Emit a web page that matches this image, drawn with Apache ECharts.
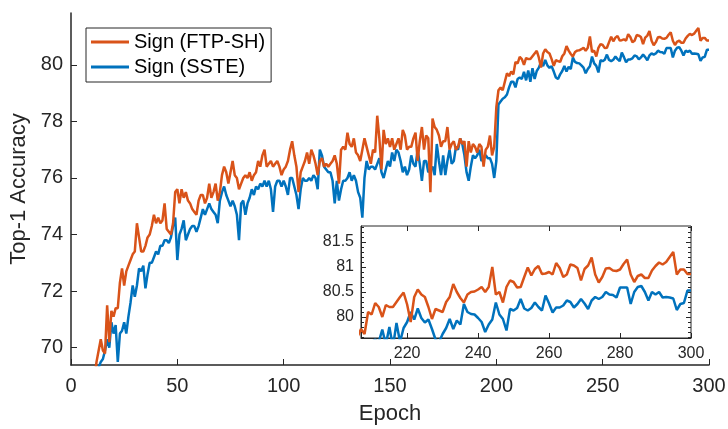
<!DOCTYPE html>
<html>
<head>
<meta charset="utf-8">
<script src="https://cdn.jsdelivr.net/npm/echarts@6/dist/echarts.min.js"></script>
<style>
html,body{margin:0;padding:0;background:#fff;}
#c{width:728px;height:429px;}
</style>
</head>
<body>
<div id="c"></div>
<script>
// Epoch at which each series array starts
const ftpStart = 11;
const ssteStart = 12;

// Sign (FTP-SH) top-1 accuracy, epochs 11..300
const ftpSH = [
68.9, 69.5, 69.9, 70.3, 69.9, 69.8, 71.5, 70.2, 71.3, 71.1,
71.4, 71.4, 72.3, 72.8, 72.2, 72.7, 72.9, 73.1, 73.3, 73.4,
74.4, 73.9, 73.4, 73.4, 73.6, 73.9, 74.0, 74.3, 74.7, 74.4,
74.6, 74.4, 74.5, 75.1, 74.2, 74.1, 74.0, 74.4, 75.5, 75.6,
75.1, 75.6, 75.3, 75.5, 75.2, 75.1, 74.9, 74.8, 74.7, 75.2,
75.4, 75.4, 75.1, 75.3, 75.8, 75.3, 75.5, 75.8, 75.2, 75.5,
76.1, 76.4, 76.2, 75.8, 76.2, 76.6, 76.1, 76.0, 75.6, 75.8,
76.0, 76.1, 76.0, 76.2, 75.9, 76.1, 76.2, 76.6, 76.4, 76.8,
77.0, 76.4, 76.5, 76.6, 76.4, 76.5, 76.6, 76.4, 76.1, 76.3,
76.4, 76.6, 77.0, 77.3, 76.8, 76.4, 75.5, 76.2, 76.4, 76.6,
76.9, 76.5, 77.0, 76.8, 76.5, 76.1, 76.6, 76.7, 76.4, 76.5,
76.4, 76.5, 76.6, 76.8, 76.5, 75.8, 77.0, 77.1, 77.0, 77.6,
77.2, 77.1, 77.4, 76.9, 76.8, 76.6, 77.0, 77.4, 77.1, 76.8,
76.5, 77.0, 76.9, 78.2, 77.4, 76.3, 77.7, 77.2, 77.4, 77.1,
77.4, 77.0, 77.2, 77.4, 77.0, 77.7, 77.5, 77.0, 77.1, 77.1,
77.4, 77.6, 76.6, 77.3, 77.8, 77.0, 77.5, 77.4, 75.5, 78.1,
77.8, 77.7, 77.5, 77.1, 77.3, 77.3, 77.8, 77.0, 77.2, 77.3,
77.0, 77.1, 77.4, 77.2, 77.3, 76.4, 77.3, 76.9, 77.2, 77.1,
76.9, 77.2, 77.1, 76.4, 77.0, 77.1, 77.5, 76.8, 77.1, 78.5,
79.1, 79.2, 79.1, 79.4, 79.7, 79.6, 79.76, 79.66, 80.1, 80.05,
80.28, 80.2, 80.0, 80.24, 80.2, 80.2, 80.3, 80.4, 80.49, 80.25,
79.9, 80.4, 80.55, 80.45, 80.4, 80.2, 79.96, 80.16, 80.13, 80.1,
80.3, 80.4, 80.66, 80.5, 80.38, 80.29, 80.45, 80.5, 80.51, 80.55,
80.6, 80.5, 80.6, 81.0, 80.45, 80.5, 80.29, 80.6, 80.73, 80.7,
80.59, 80.6, 80.8, 80.99, 80.83, 80.96, 81.02, 80.86, 80.87, 80.9,
80.85, 81.08, 80.98, 80.8, 80.85, 81.05, 81.03, 80.98, 80.73, 80.96,
81.03, 81.19, 80.85, 80.69, 80.8, 80.97, 80.98, 80.93, 80.92, 80.95,
81.06, 81.15, 80.85, 80.7, 80.82, 80.85, 80.78, 80.78, 80.93, 81.02,
81.09, 81.05, 81.1, 81.2, 81.3, 80.85, 80.95, 80.95, 80.86, 80.86
];

// Sign (SSTE) top-1 accuracy, epochs 12..300
const sste = [
68.8, 69.3, 69.5, 69.6, 69.9, 70.3, 70.0, 70.9, 70.5, 70.8,
69.5, 70.5, 70.6, 70.9, 70.5, 71.1, 71.6, 72.2, 71.8, 72.2,
72.8, 72.7, 72.9, 72.1, 72.6, 73.0, 73.0, 73.2, 73.4, 73.3,
73.6, 73.6, 73.8, 73.8, 73.7, 73.9, 74.3, 74.6, 73.1, 74.0,
74.2, 74.5, 73.8, 74.0, 74.2, 74.3, 74.3, 74.1, 74.3, 74.6,
74.9, 74.7, 74.9, 75.1, 74.9, 74.8, 74.7, 74.4, 75.2, 75.5,
75.7, 75.4, 75.2, 75.0, 75.2, 75.0, 74.7, 73.8, 75.1, 75.2,
74.7, 75.1, 75.3, 75.6, 75.4, 75.7, 75.6, 75.8, 75.7, 75.9,
75.7, 75.9, 75.6, 74.8, 75.7, 75.9, 75.9, 75.7, 75.9, 75.7,
75.4, 76.0, 76.0, 75.7, 75.4, 74.9, 75.6, 76.0, 75.9, 75.9,
76.0, 75.9, 76.1, 76.0, 75.6, 77.0, 76.8, 76.4, 76.3, 76.2,
76.2, 75.9, 75.1, 75.9, 75.2, 75.6, 75.9, 75.9, 76.0, 76.2,
75.9, 76.1, 75.9, 75.5, 75.3, 74.6, 76.0, 76.6, 76.3, 76.4,
76.4, 76.3, 76.5, 76.7, 76.2, 76.0, 76.3, 76.6, 76.4, 76.9,
76.6, 77.0, 76.9, 76.6, 76.2, 76.4, 76.1, 76.3, 76.8, 76.5,
76.4, 77.0, 76.5, 75.9, 76.6, 76.6, 76.2, 76.3, 76.4, 76.1,
77.2, 76.6, 76.1, 76.8, 76.1, 76.6, 77.0, 76.5, 76.6, 77.1,
77.0, 77.4, 77.2, 76.8, 76.2, 75.9, 76.4, 76.8, 76.7, 76.8,
77.0, 76.6, 76.7, 76.8, 76.7, 76.7, 76.5, 76.0, 76.6, 78.6,
78.7, 78.8, 78.85, 78.95, 79.2, 79.4, 79.4, 79.2, 79.5, 79.55,
79.5, 79.75, 79.45, 79.8, 79.4, 79.88, 79.5, 79.78, 79.9, 80.1,
79.95, 80.17, 79.98, 79.89, 79.95, 79.76, 79.55, 79.5, 79.66, 79.78,
79.96, 79.76, 79.93, 79.85, 80.26, 80.1, 80.06, 80.05, 79.98, 79.9,
79.7, 79.85, 79.95, 80.29, 80.05, 79.96, 79.73, 80.16, 80.13, 80.18,
80.36, 80.17, 80.13, 80.18, 80.29, 80.2, 80.13, 80.43, 80.27, 80.09,
80.19, 80.19, 80.23, 80.33, 80.3, 80.19, 80.26, 80.36, 80.27, 80.16,
80.33, 80.4, 80.36, 80.4, 80.5, 80.45, 80.44, 80.39, 80.59, 80.59,
80.59, 80.26, 80.5, 80.6, 80.62, 80.5, 80.33, 80.5, 80.45, 80.5,
80.39, 80.4, 80.39, 80.37, 80.14, 80.26, 80.28, 80.53, 80.53
];

const seriesNames = ['Sign (FTP-SH)', 'Sign (SSTE)'];
const mainYTicks = [70, 72, 74, 76, 78, 80];
const insetXTicks = [220, 240, 260, 280, 300];
const insetYTicks = [80, 80.5, 81, 81.5];
const insetYMinor = [79.6,79.7,79.8,79.9,80.0,80.1,80.2,80.3,80.4,80.5,80.6,80.7,80.8,80.9,81.0,81.1,81.2,81.3,81.4,81.5,81.6,81.7,81.8];

const ftpData = ftpSH.map((v, i) => [ftpStart + i, v]);
const ssteData = sste.map((v, i) => [ssteStart + i, v]);

const AX = '#262626';
const FONT = '"Liberation Sans", Arial, Helvetica, sans-serif';
const ORANGE = '#D95319';
const BLUE = '#0072BD';
const LW = 2.5;

const chart = echarts.init(document.getElementById('c'), null, {renderer: 'canvas'});

function blankAxis(extra) {
  return Object.assign({
    axisLabel: {show: false},
    splitLine: {show: false},
    axisLine: {show: false}
  }, extra);
}

chart.setOption({
  animation: false,
  backgroundColor: '#fff',
  textStyle: {fontFamily: FONT},
  grid: [
    {left: 71, top: 13, width: 638, height: 352, containLabel: false, outerBoundsMode: 'none'},
    {left: 361, top: 226, width: 330, height: 112, containLabel: false, outerBoundsMode: 'none',
     show: true, backgroundColor: '#fff', borderColor: AX, borderWidth: 1, z: 5}
  ],
  legend: {
    data: [
      {name: seriesNames[0], icon: 'rect', itemStyle: {color: ORANGE}},
      {name: seriesNames[1], icon: 'rect', itemStyle: {color: BLUE}}
    ],
    orient: 'vertical',
    left: 86, top: 28,
    itemWidth: 38, itemHeight: 3, itemGap: 5,
    padding: [4, 6, 5, 5],
    borderColor: AX, borderWidth: 1, backgroundColor: '#fff',
    textStyle: {fontSize: 20, color: '#000', fontFamily: FONT, lineHeight: 20, height: 20},
    z: 20
  },
  xAxis: [
    {
      type: 'value', gridIndex: 0, min: 0, max: 300, interval: 50,
      axisLine: {lineStyle: {color: AX, width: 1.5}},
      axisTick: {inside: true, length: 6, lineStyle: {color: AX}},
      axisLabel: {fontSize: 20, color: AX, margin: 11, fontFamily: FONT},
      splitLine: {show: false},
      name: 'Epoch', nameLocation: 'middle', nameGap: 38,
      nameTextStyle: {fontSize: 22, color: AX, fontFamily: FONT}
    },
    {
      type: 'value', gridIndex: 1, min: 207, max: 300, position: 'bottom',
      axisLine: {lineStyle: {color: AX, width: 1}},
      axisTick: {inside: true, length: 5, customValues: insetXTicks, lineStyle: {color: AX}},
      axisLabel: {fontSize: 16, color: AX, margin: 8, customValues: insetXTicks, fontFamily: FONT},
      splitLine: {show: false}, z: 6
    },
    blankAxis({
      type: 'value', gridIndex: 1, min: 207, max: 300, position: 'top',
      axisTick: {inside: true, length: 5, customValues: insetXTicks, lineStyle: {color: AX}}, z: 6
    })
  ],
  yAxis: [
    {
      type: 'value', gridIndex: 0, min: 69.39, max: 81.83,
      axisLine: {show: true, lineStyle: {color: AX, width: 1.5}},
      axisTick: {show: true, inside: true, length: 6, customValues: mainYTicks, lineStyle: {color: AX}},
      axisLabel: {fontSize: 20, color: AX, margin: 8, customValues: mainYTicks, fontFamily: FONT},
      splitLine: {show: false},
      name: 'Top-1 Accuracy', nameLocation: 'middle', nameGap: 33,
      nameTextStyle: {fontSize: 22, color: AX, fontFamily: FONT}
    },
    {
      type: 'value', gridIndex: 1, min: 79.58, max: 81.82, position: 'left',
      axisLine: {show: true, lineStyle: {color: AX, width: 1}},
      axisTick: {show: true, inside: true, length: 5, customValues: insetYTicks, lineStyle: {color: AX}},
      axisLabel: {fontSize: 16, color: AX, margin: 7, customValues: insetYTicks, fontFamily: FONT},
      splitLine: {show: false}, z: 6
    },
    blankAxis({
      type: 'value', gridIndex: 1, min: 79.58, max: 81.82, position: 'left',
      axisTick: {show: true, inside: true, length: 3, customValues: insetYMinor, lineStyle: {color: AX}}, z: 6
    }),
    blankAxis({
      type: 'value', gridIndex: 1, min: 79.58, max: 81.82, position: 'right',
      axisTick: {show: true, inside: true, length: 5, customValues: insetYTicks, lineStyle: {color: AX}}, z: 6
    }),
    blankAxis({
      type: 'value', gridIndex: 1, min: 79.58, max: 81.82, position: 'right',
      axisTick: {show: true, inside: true, length: 3, customValues: insetYMinor, lineStyle: {color: AX}}, z: 6
    })
  ],
  series: [
    {name: seriesNames[1], type: 'line', xAxisIndex: 0, yAxisIndex: 0, data: ssteData,
     symbol: 'none', clip: true, z: 2, color: BLUE, lineStyle: {color: BLUE, width: LW}},
    {name: seriesNames[0], type: 'line', xAxisIndex: 0, yAxisIndex: 0, data: ftpData,
     symbol: 'none', clip: true, z: 3, color: ORANGE, lineStyle: {color: ORANGE, width: LW}},
    {name: seriesNames[1], type: 'line', xAxisIndex: 1, yAxisIndex: 1, data: ssteData,
     symbol: 'none', clip: true, z: 7, color: BLUE, lineStyle: {color: BLUE, width: LW}},
    {name: seriesNames[0], type: 'line', xAxisIndex: 1, yAxisIndex: 1, data: ftpData,
     symbol: 'none', clip: true, z: 8, color: ORANGE, lineStyle: {color: ORANGE, width: LW}}
  ]
});
</script>
</body>
</html>
